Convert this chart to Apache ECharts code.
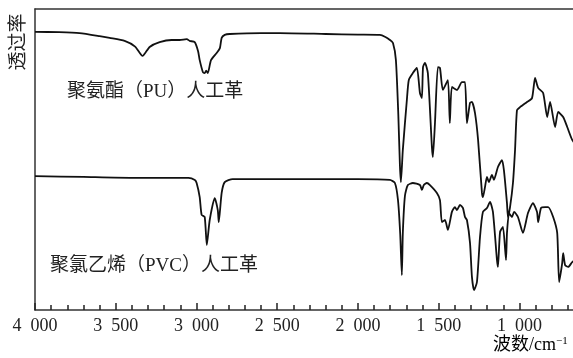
<!DOCTYPE html>
<html>
<head>
<meta charset="utf-8">
<script src="https://cdn.jsdelivr.net/npm/echarts@6/dist/echarts.min.js"></script>
<style>
  html, body { margin: 0; padding: 0; background: #fff; overflow: hidden; }
  /* plot runs past the right edge of the window, as in the source figure */
  #chart { width: 600px; height: 358px; }
</style>
</head>
<body>
<div id="chart"></div>
<script>
var myChart = echarts.init(document.getElementById("chart"));

// labelled wavenumbers (cm-1)
var majorTicks = [4000, 3500, 3000, 2500, 2000, 1500, 1000];

// PU artificial leather, [wavenumber, transmittance]
var puSpectrum = [
  [4000, 92.4], [3850, 92.3], [3724, 92.0], [3600, 91.0], [3538, 90.4],
  [3445, 89.4], [3380, 87.5], [3334, 84.4], [3290, 87.4], [3228, 89.0],
  [3154, 89.7], [3104, 89.7], [3060, 90.0], [3042, 89.4], [3011, 89.0],
  [2990, 86.0], [2980, 83.0], [2960, 79.0], [2949, 78.7], [2940, 79.5],
  [2930, 78.7], [2910, 83.0], [2875, 85.4], [2855, 87.0], [2844, 90.4],
  [2825, 91.4], [2794, 91.7], [2600, 92.0], [2484, 92.0], [2200, 91.7],
  [2000, 91.5], [1864, 91.4], [1830, 90.7], [1802, 89.7], [1783, 88.7],
  [1765, 83.1], [1750, 65.0], [1740, 48.0], [1734, 42.5], [1722, 53.2],
  [1697, 69.8], [1685, 76.4], [1660, 78.7], [1635, 80.4], [1616, 72.1],
  [1604, 70.4], [1597, 80.7], [1585, 82.1], [1567, 78.7], [1542, 54.2],
  [1536, 50.8], [1523, 62.1], [1505, 80.7], [1492, 80.4], [1474, 73.1],
  [1443, 76.4], [1431, 62.1], [1418, 74.1], [1387, 73.1], [1356, 75.7],
  [1337, 75.7], [1325, 62.1], [1306, 68.8], [1294, 69.1], [1275, 65.4],
  [1256, 56.5], [1232, 38.9], [1226, 37.5], [1213, 40.9], [1201, 44.2],
  [1189, 42.5], [1170, 44.9], [1158, 43.2], [1133, 47.5], [1108, 49.8],
  [1096, 46.5], [1077, 35.5], [1071, 30.9], [1058, 34.2], [1040, 42.2],
  [1027, 53.2], [1015, 66.4], [996, 67.4], [953, 69.1], [922, 70.4],
  [903, 77.1], [884, 73.8], [853, 72.1], [828, 64.1], [810, 69.1],
  [779, 60.8], [760, 65.8], [729, 64.1], [704, 60.8], [673, 56.5],
  [640, 54.0]
];

// PVC artificial leather, [wavenumber, transmittance]
var pvcSpectrum = [
  [4000, 44.5], [3700, 44.2], [3400, 43.9], [3200, 43.9], [3050, 43.9],
  [3010, 43.2], [2999, 42.2], [2980, 37.5], [2968, 31.6], [2949, 30.9],
  [2936, 21.6], [2918, 29.9], [2887, 37.2], [2868, 33.2], [2862, 29.2],
  [2844, 38.9], [2825, 42.5], [2776, 43.5], [2400, 43.5], [2000, 43.5],
  [1802, 43.2], [1771, 42.2], [1752, 36.5], [1738, 25.0], [1728, 11.6],
  [1722, 25.6], [1709, 37.9], [1691, 41.5], [1660, 42.2], [1616, 41.5],
  [1604, 39.9], [1592, 41.5], [1573, 42.2], [1554, 41.5], [1511, 38.9],
  [1492, 36.5], [1480, 29.2], [1461, 29.9], [1443, 26.6], [1418, 32.6],
  [1399, 34.2], [1387, 33.2], [1368, 34.9], [1350, 33.9], [1337, 30.9],
  [1325, 29.9], [1306, 22.3], [1294, 11.0], [1281, 6.6], [1263, 9.3],
  [1244, 24.3], [1226, 32.6], [1201, 33.9], [1182, 35.9], [1164, 32.6],
  [1139, 16.6], [1133, 14.3], [1120, 25.9], [1102, 27.6], [1083, 16.6],
  [1077, 25.6], [1064, 32.2], [1046, 30.9], [1033, 32.6], [1009, 30.9],
  [978, 25.6], [947, 32.2], [916, 35.5], [891, 32.6], [884, 29.2],
  [866, 33.9], [841, 34.2], [822, 34.2], [791, 30.9], [766, 25.6],
  [754, 9.3], [735, 15.6], [729, 18.9], [717, 14.9], [698, 14.3],
  [673, 15.9], [640, 17.0]
];

var serif = "'Liberation Serif', 'Noto Sans CJK SC', serif";
var ink = "#222";

function fmtWn(v) {
  if (majorTicks.indexOf(v) < 0) return "";
  // "4 000" style with a gap for thousands
  var k = Math.floor(v / 1000);
  var r = ("00" + (v % 1000)).slice(-3);
  return k + "\u2002" + r;
}

var option = {
  animation: false,
  backgroundColor: "#fff",
  grid: [
    {
      // main plot, 4000 -> 600 cm-1
      left: 35,
      right: 16,
      top: 9,
      bottom: 48
    },
    {
      // same scale, 4000 -> 500 cm-1, only for the longer ticks
      left: 35,
      right: 0,
      top: 9,
      bottom: 48
    }
  ],
  xAxis: [
    {
      type: "value",
      gridIndex: 0,
      inverse: true,
      min: 600,
      max: 4000,
      interval: 100,
      axisLine: { show: true, onZero: false, lineStyle: { color: "#333", width: 1.5 } },
      axisTick: { show: true, inside: true, length: 5, lineStyle: { color: "#222", width: 1.5 } },
      axisLabel: {
        formatter: fmtWn,
        margin: 7,
        color: ink,
        fontFamily: serif,
        fontSize: 18
      },
      splitLine: { show: false }
    },
    {
      type: "value",
      gridIndex: 1,
      inverse: true,
      min: 500,
      max: 4000,
      interval: 500,
      axisLine: { show: false, onZero: false },
      axisTick: { show: true, inside: true, length: 7, lineStyle: { color: "#222", width: 1.5 } },
      axisLabel: { show: false },
      splitLine: { show: false }
    },
    {
      // top frame line
      type: "value",
      gridIndex: 0,
      position: "top",
      inverse: true,
      min: 600,
      max: 4000,
      axisLine: { show: true, onZero: false, lineStyle: { color: "#333", width: 1.5 } },
      axisTick: { show: false },
      axisLabel: { show: false },
      splitLine: { show: false }
    }
  ],
  yAxis: [
    {
      type: "value",
      gridIndex: 0,
      min: 0,
      max: 100,
      axisLine: { show: true, lineStyle: { color: "#333", width: 1.5 } },
      axisTick: { show: false },
      axisLabel: { show: false },
      splitLine: { show: false }
    },
    {
      type: "value",
      gridIndex: 1,
      min: 0,
      max: 100,
      show: false
    }
  ],
  series: [
    {
      name: "PU",
      type: "line",
      xAxisIndex: 0,
      yAxisIndex: 0,
      data: puSpectrum,
      showSymbol: false,
      smooth: 0.2,
      lineStyle: { color: "#111", width: 1.8 }
    },
    {
      name: "PVC",
      type: "line",
      xAxisIndex: 0,
      yAxisIndex: 0,
      data: pvcSpectrum,
      showSymbol: false,
      smooth: 0.2,
      lineStyle: { color: "#111", width: 1.8 }
    }
  ],
  graphic: [
    {
      type: "text",
      x: 19,
      y: 42,
      rotation: Math.PI / 2,
      style: {
        text: "透过率",
        align: "center",
        verticalAlign: "middle",
        font: "19px " + serif,
        fill: ink
      }
    },
    {
      type: "text",
      x: 67,
      y: 92,
      style: {
        text: "聚氨酯（PU）人工革",
        align: "left",
        verticalAlign: "middle",
        font: "19px " + serif,
        fill: ink
      }
    },
    {
      type: "text",
      x: 50,
      y: 266,
      style: {
        text: "聚氯乙烯（PVC）人工革",
        align: "left",
        verticalAlign: "middle",
        font: "19px " + serif,
        fill: ink
      }
    },
    {
      type: "text",
      x: 493,
      y: 345,
      style: {
        text: "{a|波数/cm}{s|−1}",
        align: "left",
        verticalAlign: "middle",
        rich: {
          a: { fontSize: 18, fontFamily: serif, color: ink },
          s: { fontSize: 11, fontFamily: serif, color: ink, verticalAlign: "top", padding: [0, 0, 8, 0] }
        }
      }
    }
  ]
};

myChart.setOption(option);
</script>
</body>
</html>
